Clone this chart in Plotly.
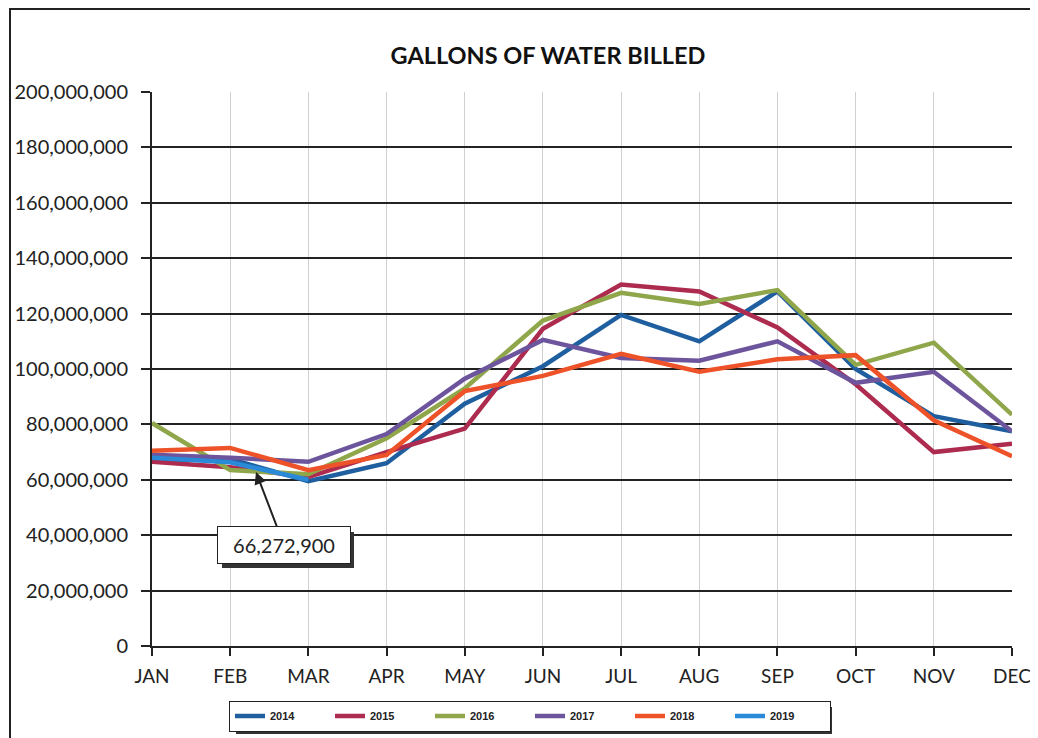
import plotly.graph_objects as go

months = ["JAN", "FEB", "MAR", "APR", "MAY", "JUN", "JUL", "AUG", "SEP", "OCT", "NOV", "DEC"]
years = ["2014", "2015", "2016", "2017", "2018", "2019"]

# gallons billed (millions)
g2014 = [67.0, 67.5, 59.5, 66.0, 87.5, 101.0, 119.5, 110.0, 128.0, 100.0, 83.0, 77.5]
g2015 = [66.5, 64.5, 61.0, 70.0, 78.5, 114.5, 130.5, 128.0, 115.0, 94.5, 70.0, 73.0]
g2016 = [80.5, 63.5, 62.0, 75.0, 93.0, 117.5, 127.5, 123.5, 128.5, 101.5, 109.5, 83.5]
g2017 = [69.0, 68.0, 66.5, 76.5, 96.5, 110.5, 104.0, 103.0, 110.0, 95.0, 99.0, 77.5]
g2018 = [70.5, 71.5, 63.5, 69.0, 92.0, 97.5, 105.5, 99.0, 103.5, 105.0, 81.5, 68.5]
g2019 = [68.0, 66.3, 60.0]

series = [g2014, g2015, g2016, g2017, g2018, g2019]
colors = ["#1F5FA0", "#AC2B4E", "#8FA64A", "#6D559E", "#EE5228", "#2A8AD8"]

callout_text = "66,272,900"
callout_value = 62.8e6

fig = go.Figure()
for name, vals, col in zip(years, series, colors):
    fig.add_trace(go.Scatter(
        x=months[:len(vals)], y=[v * 1e6 for v in vals], name=name, mode="lines",
        line=dict(color=col, width=4.5),
    ))

OFF = 8  # page body margin
W, H = 1030, 730
L, T = 152 - OFF, 92 - OFF
pw, ph = 860, 554
R, B = W - L - pw, H - T - ph

def px(x):
    return (x - OFF - L) / pw

def py(y):
    return (T + ph - (y - OFF)) / ph

shapes = [
    # outer chart border
    dict(type="rect", xref="paper", yref="paper", x0=px(10), x1=px(1080), y0=py(780), y1=py(9),
         line=dict(color="#222", width=2), fillcolor="rgba(0,0,0,0)", layer="below"),
    # callout shadow
    dict(type="rect", xref="paper", yref="paper", x0=px(222), x1=px(354), y0=py(568), y1=py(532),
         line=dict(width=0), fillcolor="#333", layer="above"),
    # legend shadow
    dict(type="rect", xref="paper", yref="paper", x0=px(236), x1=px(832), y0=py(734), y1=py(707),
         line=dict(width=0), fillcolor="#333", layer="below"),
]

fig.add_annotation(
    x=1.33, y=callout_value, xref="x", yref="y", text=callout_text,
    showarrow=True, arrowhead=2, arrowsize=1.2, arrowwidth=2, arrowcolor="#222",
    ax=28, ay=73, bgcolor="white", bordercolor="#222", borderwidth=1, borderpad=6,
    font=dict(family="Lato", size=20, color="#222"), width=120,
)

fig.update_layout(
    width=W, height=H,
    margin=dict(l=L, r=R, t=T, b=B, autoexpand=False),
    paper_bgcolor="white", plot_bgcolor="white",
    title=dict(text="<b>GALLONS OF WATER BILLED</b>", x=(548 - OFF) / W, xanchor="center",
               y=1 - (56 - OFF) / H, yanchor="middle",
               font=dict(family="Lato", size=23.5, color="#111")),
    xaxis=dict(
        type="category", categoryorder="array", categoryarray=months,
        range=[0, 11], showgrid=True, gridcolor="#d0d0d0", gridwidth=1,
        showline=True, linecolor="#222", linewidth=2,
        ticks="outside", ticklen=8, tickwidth=2, tickcolor="#222",
        tickfont=dict(family="Lato", size=19, color="#222"), ticklabelstandoff=4,
        zeroline=False, fixedrange=True, automargin=False,
    ),
    yaxis=dict(
        range=[0, 200e6], tickvals=[i * 20e6 for i in range(11)], tickformat=",d",
        showgrid=True, gridcolor="#222", gridwidth=2,
        showline=True, linecolor="#222", linewidth=2,
        ticks="outside", ticklen=9, tickwidth=2, tickcolor="#222",
        tickfont=dict(family="Lato", size=20, color="#222"), ticklabelstandoff=9,
        zeroline=False, fixedrange=True, automargin=False,
    ),
    legend=dict(
        orientation="h", xref="container", yref="container",
        x=(530 - OFF) / W, xanchor="center", y=1 - (716 - OFF) / H, yanchor="middle",
        bgcolor="white", bordercolor="#222", borderwidth=1,
        font=dict(family="Liberation Sans", size=11, color="#222", weight="bold"),
        entrywidth=55, entrywidthmode="pixels", tracegroupgap=0,
    ),
    shapes=shapes,
    showlegend=True,
)

fig.write_html("out.html")
